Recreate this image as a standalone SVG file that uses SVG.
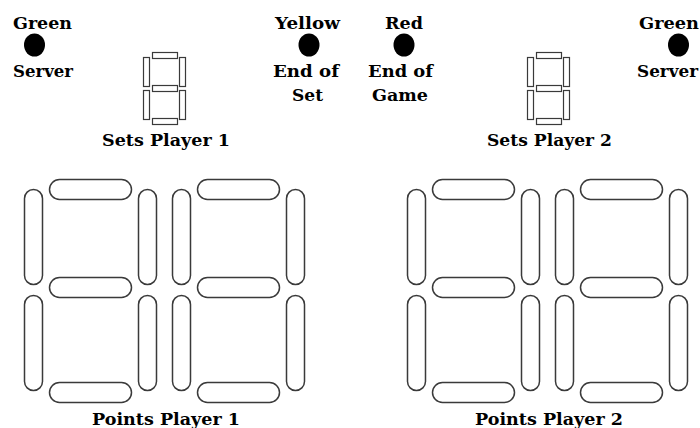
<svg xmlns="http://www.w3.org/2000/svg" width="700" height="428" viewBox="0 0 700 428">
<style>
.t{font-family:'DejaVu Serif',serif;font-weight:700;font-size:17px;fill:#000}
.h{fill:#fff;stroke:#3a3a3a;stroke-width:1.5}
.s{fill:#fff;stroke:#3a3a3a;stroke-width:1.2}
.led{fill:#000}
</style>
<defs>
<g id="bigDigit">
<rect class="h" x="25.5" y="179.5" width="82" height="20" rx="10"/>
<rect class="h" x="0.5" y="189.5" width="18" height="95" rx="9"/>
<rect class="h" x="114.5" y="189.5" width="18" height="95" rx="9"/>
<rect class="h" x="25.5" y="277.5" width="82" height="20" rx="10"/>
<rect class="h" x="0.5" y="295.5" width="18" height="95" rx="9"/>
<rect class="h" x="114.5" y="295.5" width="18" height="95" rx="9"/>
<rect class="h" x="25.5" y="382.5" width="82" height="20" rx="10"/>
</g>
<g id="smallDigit">
<rect class="s" x="9.5" y="52.5" width="25" height="6"/>
<rect class="s" x="0.5" y="57.5" width="6" height="29"/>
<rect class="s" x="36.5" y="57.5" width="6" height="29"/>
<rect class="s" x="9.5" y="85.5" width="25" height="6"/>
<rect class="s" x="0.5" y="90.5" width="6" height="29"/>
<rect class="s" x="36.5" y="90.5" width="6" height="29"/>
<rect class="s" x="9.5" y="118.5" width="25" height="6"/>
</g>
</defs>

<g id="server-led-1" class="t">
<text x="13" y="29" textLength="59" lengthAdjust="spacingAndGlyphs">Green</text>
<ellipse class="led" cx="34.5" cy="45" rx="10.5" ry="11.5"/>
<text x="13" y="77" textLength="60" lengthAdjust="spacingAndGlyphs">Server</text>
</g>

<g id="sets-player-1" class="t">
<use href="#smallDigit" x="143"/>
<text x="102" y="146" textLength="128" lengthAdjust="spacingAndGlyphs">Sets Player 1</text>
</g>

<g id="end-of-set-led" class="t">
<text x="275" y="29" textLength="65" lengthAdjust="spacingAndGlyphs">Yellow</text>
<ellipse class="led" cx="309" cy="45" rx="10.5" ry="11.5"/>
<text x="273" y="77" textLength="66" lengthAdjust="spacingAndGlyphs">End of</text>
<text x="292" y="101" textLength="31" lengthAdjust="spacingAndGlyphs">Set</text>
</g>

<g id="end-of-game-led" class="t">
<text x="385" y="29" textLength="38" lengthAdjust="spacingAndGlyphs">Red</text>
<ellipse class="led" cx="404" cy="45" rx="10.5" ry="11.5"/>
<text x="368" y="77" textLength="65" lengthAdjust="spacingAndGlyphs">End of</text>
<text x="372" y="101" textLength="56" lengthAdjust="spacingAndGlyphs">Game</text>
</g>

<g id="sets-player-2" class="t">
<use href="#smallDigit" x="527"/>
<text x="487" y="146" textLength="125" lengthAdjust="spacingAndGlyphs">Sets Player 2</text>
</g>

<g id="server-led-2" class="t">
<text x="639" y="29" textLength="60" lengthAdjust="spacingAndGlyphs">Green</text>
<ellipse class="led" cx="678.5" cy="45" rx="10.5" ry="11.5"/>
<text x="637" y="77" textLength="61" lengthAdjust="spacingAndGlyphs">Server</text>
</g>

<g id="points-player-1" class="t">
<use href="#bigDigit" x="24"/>
<use href="#bigDigit" x="172"/>
<text x="92" y="425" textLength="148" lengthAdjust="spacingAndGlyphs">Points Player 1</text>
</g>

<g id="points-player-2" class="t">
<use href="#bigDigit" x="407"/>
<use href="#bigDigit" x="555"/>
<text x="475" y="425" textLength="148" lengthAdjust="spacingAndGlyphs">Points Player 2</text>
</g>

<g id="connectors"></g>
</svg>
